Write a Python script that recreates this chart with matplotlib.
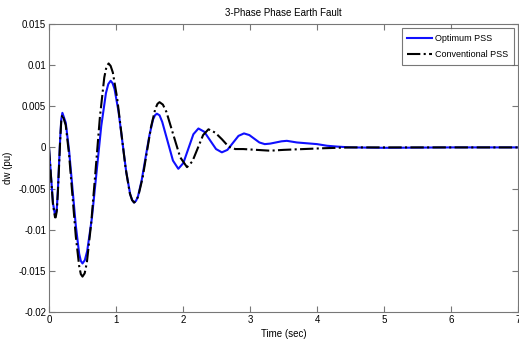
import matplotlib
matplotlib.use('Agg')
import matplotlib.pyplot as plt

plt.rcParams['font.family'] = ['Liberation Sans', 'DejaVu Sans']

# Optimum PSS response
t_opt = [0.0, 0.03, 0.06, 0.09, 0.10, 0.117, 0.133, 0.15, 0.167, 0.183, 0.20,
         0.25, 0.30, 0.35, 0.40, 0.45, 0.475, 0.50, 0.535,
         0.57, 0.64, 0.71, 0.78, 0.85, 0.885, 0.92, 0.949,
         0.978, 1.037, 1.095, 1.153, 1.212, 1.241, 1.27, 1.298,
         1.327, 1.383, 1.44, 1.497, 1.553, 1.582, 1.61, 1.65,
         1.69, 1.77, 1.85, 1.93,
         2.005, 2.08, 2.155, 2.23,
         2.318, 2.405, 2.493, 2.58,
         2.663, 2.745, 2.828, 2.91,
         2.99, 3.065, 3.14, 3.22,
         3.30, 3.385, 3.47, 3.55,
         3.70, 3.85, 4.0, 4.15, 4.3, 4.5, 5.0, 6.0, 7.0]
dw_opt = [0.0, -0.0035, -0.0068, -0.0082, -0.0082, -0.0074, -0.0051, -0.0020, 0.0011, 0.0034, 0.0042,
          0.0030, -0.0004, -0.00495, -0.0095, -0.0129, -0.0138, -0.0141, -0.0137,
          -0.0126, -0.0086, -0.0030, 0.0026, 0.0066, 0.0077, 0.0081, 0.0078,
          0.0071, 0.0044, 0.0007, -0.0030, -0.0057, -0.0064, -0.0067, -0.0065,
          -0.0060, -0.0040, -0.0013, 0.0014, 0.0034, 0.0039, 0.0041, 0.0039,
          0.0031, 0.00075, -0.0016, -0.0026,
          -0.0019, -0.00015, 0.0016, 0.0023,
          0.0019, 0.00085, -0.0002, -0.0006,
          -0.0003, 0.00055, 0.0014, 0.0017,
          0.0015, 0.00105, 0.0006, 0.0004,
          0.00046, 0.0006, 0.00074, 0.0008,
          0.0006, 0.0005, 0.0004, 0.0002, 0.0001, 0.0, -0.00005, 0.0, 0.0]

# Conventional PSS response
t_conv = [0.0, 0.03, 0.06, 0.09, 0.10, 0.117, 0.133, 0.15, 0.167, 0.183, 0.20,
          0.25, 0.30, 0.35, 0.40, 0.45, 0.475, 0.50, 0.5325,
          0.565, 0.63, 0.695, 0.76, 0.825, 0.8575, 0.89, 0.92,
          0.953, 1.017, 1.08, 1.143, 1.207, 1.24, 1.27, 1.30,
          1.333, 1.397, 1.46, 1.523, 1.587, 1.62, 1.65, 1.70,
          1.753, 1.855, 1.958, 2.06,
          2.14, 2.22, 2.30, 2.38,
          2.48, 2.58, 2.68, 2.78,
          2.9, 3.1, 3.3, 3.5, 3.8, 4.1, 4.5, 7.0]
dw_conv = [0.0, -0.0036, -0.0070, -0.0085, -0.0085, -0.0077, -0.0054, -0.0023, 0.0009, 0.0032, 0.0040,
           0.0027, -0.0009, -0.00585, -0.0108, -0.0144, -0.0154, -0.0157, -0.0153,
           -0.0140, -0.0092, -0.0028, 0.0037, 0.0085, 0.0098, 0.0102, 0.0099,
           0.0091, 0.0060, 0.00175, -0.0025, -0.0056, -0.0064, -0.0067, -0.0065,
           -0.0059, -0.0037, -0.0006, 0.0025, 0.0047, 0.0053, 0.0055, 0.0052,
           0.0043, 0.00155, -0.0012, -0.0024,
           -0.0017, -0.0001, 0.0015, 0.0022,
           0.0018, 0.0010, 0.0001, -0.0002,
           -0.0002, -0.0003, -0.0004, -0.0003, -0.0002, -0.0001, 0.0, 0.0]

x_ticks = [0, 1, 2, 3, 4, 5, 6, 7]
y_ticks = [-0.02, -0.015, -0.01, -0.005, 0, 0.005, 0.01, 0.015]
y_labels = ['-0.02', '-0.015', '-0.01', '-0.005', '0', '0.005', '0.01', '0.015']

fig = plt.figure(figsize=(5.19, 3.45), dpi=100)
ax = fig.add_axes([0.0944, 0.0957, 0.9037, 0.8348])

ax.plot(t_opt, dw_opt, color='#1010ff', lw=1.5, label='Optimum PSS')
ax.plot(t_conv, dw_conv, color='black', lw=1.5, linestyle='-.', label='Conventional PSS')

ax.set_xlim(0, 7)
ax.set_ylim(-0.02, 0.015)
ax.set_xticks(x_ticks)
ax.set_yticks(y_ticks)
ax.set_yticklabels(y_labels)
ax.tick_params(direction='in', top=True, right=True, labelsize=7, length=4,
               color='#777777', pad=2)
for s in ax.spines.values():
    s.set_color('#777777')

ax.set_title('3-Phase Phase Earth Fault', fontsize=7, pad=6)
ax.set_xlabel('Time (sec)', fontsize=7, labelpad=3)
ax.set_ylabel('dw (pu)', fontsize=7, labelpad=4)

leg = ax.legend(loc='upper right', fontsize=6.5, fancybox=False, edgecolor='#555555',
                handlelength=2.8, handletextpad=0.3, labelspacing=0.8,
                borderpad=0.6, borderaxespad=0.5)
leg.get_frame().set_linewidth(0.8)

plt.savefig('out.png', dpi=100)
